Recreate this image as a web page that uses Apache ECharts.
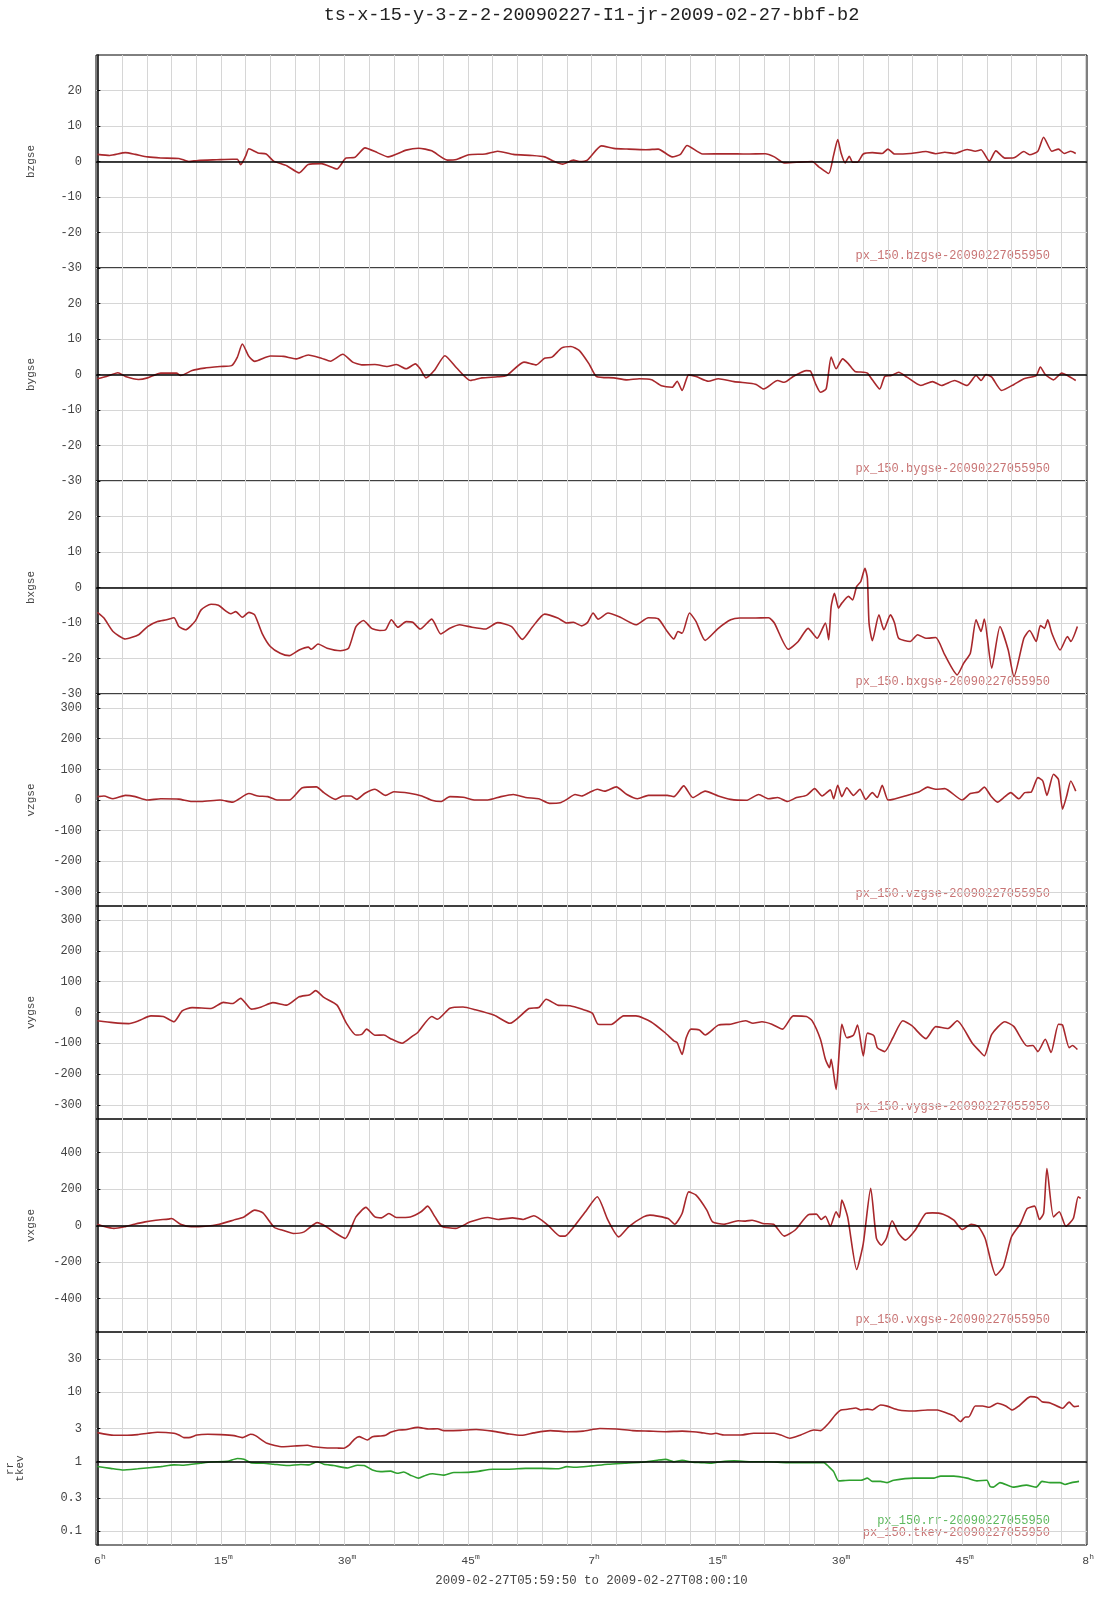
<!DOCTYPE html>
<html><head><meta charset="utf-8">
<script src="https://cdn.jsdelivr.net/npm/echarts@6/dist/echarts.min.js"></script>
<style>html,body{margin:0;padding:0;background:#fff}#c{width:1107px;height:1600px}</style>
</head><body><div id="c"></div>
<script>
// ---- text / ticks ----
const chartTitle = 'ts-x-15-y-3-z-2-20090227-I1-jr-2009-02-27-bbf-b2';
const xRangeLabel = '2009-02-27T05:59:50 to 2009-02-27T08:00:10';
const xMin = -10 / 60, xMax = 120 + 10 / 60;           // minutes after 06:00
const xGridTicks = [0,3,6,9,12,15,18,21,24,27,30,33,36,39,42,45,48,51,54,57,60,63,66,69,72,75,78,81,84,87,90,93,96,99,102,105,108,111,114,117,120];
const xLabelTicks = [0,15,30,45,60,75,90,105,120];
const xLabelNums  = ['6','15','30','45','7','15','30','45','8'];
const xLabelUnits = ['h','m','m','m','h','m','m','m','h'];
const bTicks  = [-30,-20,-10,0,10,20];
const vzTicks = [-300,-200,-100,0,100,200,300];
const vxTicks = [-400,-200,0,200,400];
const logTicks = [0.1,0.3,1,3,10,30];
const logTickLabels = ['0.1','0.3','1','3','10','30'];

// ---- data: [minutes after 06:00, value] ----
const bzgse = [[0,2.0],[1.5,1.7],[3.4,2.5],[4.6,2.0],[6.1,1.3],[7.7,1.0],[9.9,0.85],[11.1,0],[12.2,0.3],[14.5,0.5],[16.4,0.65],[17.0,0.65],[17.4,-0.9],[18.0,1.5],[18.4,3.6],[19.5,2.4],[20.5,2.1],[21.4,0.1],[23.0,-1.2],[24.5,-3.2],[25.6,-0.85],[27.2,-0.6],[29.1,-2.1],[30.2,1.0],[31.2,1.1],[32.5,3.85],[34.0,2.5],[35.3,1.3],[37.5,3.2],[39.0,3.75],[40.6,3.0],[42.5,0.4],[43.6,0.55],[45.1,1.9],[47.1,2.1],[48.6,2.9],[50.5,2.0],[52.8,1.7],[54.3,1.3],[55.5,0],[56.5,-0.75],[57.8,0.4],[58.5,0],[59.5,0.4],[61.2,4.4],[62.7,3.7],[64.3,3.5],[66.6,3.3],[68.1,3.5],[69.8,1.3],[70.8,2.0],[71.6,4.5],[73.5,2.1],[76.5,2.2],[78.8,2.1],[81.1,2.2],[82.2,1.3],[83.4,-0.4],[84.9,-0.2],[86.8,0],[87.6,-1.5],[88.8,-3.4],[89.4,1.8],[89.9,6.2],[90.3,2.4],[90.8,-0.4],[91.3,1.5],[91.7,-0.2],[92.3,-0.2],[93.0,2.1],[94.1,2.5],[95.3,2.25],[96.0,3.5],[96.8,2.1],[98.7,2.25],[100.6,2.8],[101.8,2.2],[102.9,2.6],[104.1,2.25],[105.6,3.4],[106.6,2.9],[107.3,3.3],[108.3,0.1],[109.1,3.0],[110.2,0.95],[111.3,1.05],[112.5,2.8],[113.2,1.9],[114.2,2.9],[114.9,6.85],[115.9,2.9],[116.7,3.5],[117.4,2.25],[118.2,2.9],[118.8,2.25]];
const bygse = [[0,-1.2],[1.1,-0.55],[2.5,0.5],[3.4,-0.55],[5.0,-1.4],[6.1,-0.95],[7.7,0.4],[9.6,0.4],[10.1,-0.3],[11.5,1.1],[13.0,1.8],[14.9,2.25],[16.3,2.5],[17.0,4.9],[17.6,8.6],[18.4,5.1],[19.1,3.7],[21.0,5.2],[22.6,5.1],[24.1,4.4],[25.6,5.5],[27.2,4.6],[28.3,3.75],[29.8,5.7],[31.0,3.5],[32.1,2.7],[33.7,2.8],[35.2,2.25],[36.3,2.8],[37.5,1.6],[38.6,3.0],[39.2,1.6],[39.9,-0.95],[40.9,1.1],[42.2,5.3],[43.6,1.9],[45.3,-1.7],[46.7,-0.95],[48.6,-0.65],[49.7,-0.3],[51.8,3.5],[53.3,2.7],[54.3,4.6],[55.2,4.9],[56.4,7.5],[57.5,7.9],[58.5,6.8],[59.7,3.0],[60.6,-0.55],[62.7,-0.95],[64.3,-1.5],[65.8,-1.2],[67.3,-1.5],[68.5,-3.2],[69.8,-3.6],[70.4,-1.9],[71.0,-4.5],[71.8,-0.1],[72.7,-0.55],[74.2,-1.9],[75.4,-1.2],[77.3,-2.0],[79.2,-2.45],[80.0,-2.8],[80.9,-4.1],[82.6,-1.7],[83.4,-2.2],[84.5,-0.55],[86.1,1.1],[86.6,0.95],[87.2,-2.6],[87.8,-5.0],[88.5,-4.0],[89.1,4.9],[89.7,1.6],[90.5,4.4],[91.2,3.0],[92.0,0.85],[93.0,0.65],[93.5,0.4],[94.1,-1.5],[95.0,-4.1],[95.6,-0.55],[96.4,-0.3],[97.3,0.65],[98.3,-0.75],[100.0,-3.1],[101.4,-2.0],[102.5,-3.1],[104.1,-1.7],[105.6,-3.1],[106.7,-0.3],[107.3,-1.7],[107.9,0],[108.6,-0.75],[109.8,-4.5],[111.3,-2.8],[112.5,-1.2],[114.0,-0.3],[114.5,2.1],[115.1,0],[116.1,-1.5],[117.1,0.4],[117.8,-0.3],[118.8,-1.7]];
const bxgse = [[0,-7.0],[0.8,-8.6],[1.9,-12.4],[3.4,-14.5],[5.0,-13.3],[6.1,-11.0],[7.3,-9.6],[8.4,-9.1],[9.3,-8.5],[9.9,-11.0],[10.7,-11.9],[11.9,-9.4],[12.6,-6.3],[13.8,-4.7],[14.7,-5.0],[15.7,-6.8],[16.2,-7.4],[16.8,-6.8],[17.6,-8.4],[18.4,-7.0],[19.1,-7.7],[20.0,-12.9],[21.0,-16.6],[22.2,-18.5],[23.3,-19.2],[24.5,-17.6],[25.6,-16.8],[26.0,-17.4],[26.8,-15.9],[27.9,-17.1],[29.5,-17.8],[30.5,-17.1],[31.4,-11.0],[32.3,-9.3],[33.3,-11.5],[34.3,-12.1],[35.0,-11.9],[35.7,-9.1],[36.5,-11.2],[37.5,-9.6],[38.3,-9.8],[39.2,-11.7],[40.6,-8.9],[41.7,-13.1],[42.8,-11.5],[44.0,-10.5],[45.5,-11.2],[47.1,-11.7],[48.6,-9.9],[50.3,-11.0],[51.6,-14.6],[52.8,-11.2],[54.3,-7.5],[55.9,-8.6],[57.0,-10.0],[57.8,-9.8],[58.8,-10.8],[59.5,-9.9],[60.2,-7.2],[60.8,-8.9],[62.0,-7.2],[63.5,-8.4],[65.4,-10.5],[66.9,-8.5],[68.1,-8.8],[69.2,-12.4],[70.0,-14.5],[70.5,-12.4],[71.0,-12.9],[71.9,-7.2],[72.7,-9.6],[73.8,-14.9],[75.4,-11.5],[76.9,-9.1],[78.0,-8.6],[79.6,-8.6],[81.5,-8.5],[82.2,-10.0],[83.9,-17.4],[85.1,-15.2],[86.3,-11.5],[87.4,-14.3],[88.4,-10.0],[88.8,-14.7],[89.1,-5.4],[89.5,-1.6],[90.0,-5.8],[90.4,-4.4],[91.2,-2.5],[91.7,-3.5],[92.2,0.3],[92.7,1.7],[93.2,5.4],[93.5,2.6],[93.7,-10.0],[94.1,-15.0],[94.9,-7.7],[95.5,-11.9],[96.3,-7.7],[96.8,-10.0],[97.3,-14.3],[98.7,-15.2],[99.6,-13.3],[100.6,-14.3],[101.8,-14.1],[102.9,-19.0],[104.4,-24.6],[105.2,-21.3],[106.0,-18.5],[106.7,-9.1],[107.3,-12.4],[107.7,-8.9],[108.6,-22.7],[109.6,-11.0],[110.6,-17.6],[111.3,-25.1],[112.5,-14.3],[113.2,-12.1],[114.0,-15.2],[114.5,-10.7],[115.0,-11.5],[115.4,-9.1],[115.9,-12.9],[116.9,-17.6],[117.8,-13.8],[118.2,-15.2],[119.0,-11.0]];
const vzgse = [[0,11],[0.8,13],[1.9,4],[3.4,15],[4.6,11],[6.1,0],[7.7,4],[9.9,3],[11.5,-5],[12.6,-5],[14.9,0],[16.4,-7],[18.4,21],[19.5,13],[20.7,11],[21.8,0],[23.3,0],[24.9,40],[26.6,43],[27.5,24],[28.9,2],[29.8,13],[30.8,13],[31.5,2],[32.5,22],[33.7,35],[35.0,15],[36.0,27],[37.9,22],[39.4,13],[40.6,-1],[41.7,-5],[42.8,11],[44.4,9],[45.9,0],[47.4,0],[49.0,11],[50.5,18],[52.0,8],[53.6,4],[54.9,-11],[56.2,-9],[57.0,2],[58.0,18],[58.8,13],[59.7,24],[60.7,35],[61.6,29],[63.0,43],[64.3,18],[65.6,4],[66.9,15],[69.2,15],[70.0,11],[71.2,46],[72.3,8],[73.8,29],[75.4,13],[76.9,2],[78.8,-1],[80.3,18],[81.5,4],[82.6,8],[83.8,-5],[84.9,8],[86.1,15],[87.1,37],[88.0,13],[89.0,33],[89.4,4],[89.9,48],[90.4,11],[91.0,40],[91.8,15],[92.6,35],[93.3,2],[94.1,24],[94.7,8],[95.3,48],[96.0,0],[96.6,2],[98.3,15],[99.8,27],[100.8,42],[101.8,35],[102.9,37],[105.0,0],[106.0,21],[107.0,26],[107.7,42],[108.5,13],[109.3,-7],[110.2,11],[110.9,24],[111.9,4],[112.6,24],[113.4,26],[114.2,73],[114.8,62],[115.3,15],[116.1,84],[116.7,67],[117.2,-30],[117.7,13],[118.2,62],[118.8,29]];
const vygse = [[0,-27],[1.9,-33],[3.8,-36],[5.0,-27],[6.5,-11],[8.0,-13],[9.3,-30],[10.3,5],[11.5,16],[13.8,13],[15.3,33],[16.4,29],[17.4,46],[18.7,11],[19.9,18],[21.3,32],[23.0,24],[24.5,51],[25.8,58],[26.5,71],[27.5,49],[29.1,24],[30.2,-33],[31.4,-73],[32.1,-71],[32.7,-54],[33.7,-74],[34.8,-73],[35.6,-85],[37.0,-100],[38.3,-76],[38.9,-65],[40.6,-13],[41.3,-22],[42.8,14],[44.4,18],[45.9,9],[48.2,-9],[50.1,-35],[52.4,13],[53.6,16],[54.5,43],[55.9,24],[57.4,22],[58.8,11],[60.1,-2],[60.8,-38],[62.4,-39],[63.9,-11],[65.4,-11],[67.2,-30],[68.9,-65],[70.0,-92],[70.4,-98],[71.0,-136],[71.5,-82],[72.1,-54],[73.1,-57],[73.8,-73],[75.4,-41],[76.9,-38],[78.7,-27],[79.6,-35],[80.7,-30],[81.9,-38],[83.2,-54],[84.5,-11],[86.1,-13],[86.8,-27],[87.8,-87],[88.4,-152],[88.9,-179],[89.1,-152],[89.7,-250],[90.1,-120],[90.4,-38],[91.0,-82],[91.8,-74],[92.3,-41],[93.0,-141],[93.5,-67],[94.3,-76],[94.7,-114],[95.6,-127],[96.6,-82],[97.8,-27],[98.9,-43],[100.6,-85],[101.8,-46],[103.3,-52],[104.4,-27],[106.2,-98],[107.1,-125],[107.7,-141],[108.6,-71],[110.2,-30],[111.3,-46],[112.9,-109],[113.6,-107],[114.2,-127],[115.1,-87],[115.8,-130],[116.7,-38],[117.2,-41],[118.0,-114],[118.4,-107],[119.0,-120]];
const vxgse = [[0,7],[0.7,-4],[2.0,-16],[3.3,-7],[4.5,7],[5.8,20],[7.1,29],[8.6,35],[9.0,38],[10.1,7],[11.4,-7],[13.1,-4],[14.8,7],[16.5,29],[17.8,47],[19.1,84],[20.1,69],[21.5,-11],[22.5,-26],[23.8,-44],[25.1,-35],[26.7,16],[27.7,-4],[29.0,-44],[30.1,-71],[31.4,47],[32.6,99],[33.7,47],[34.5,42],[35.4,66],[36.3,44],[38.0,47],[39.3,75],[40.1,106],[41.0,47],[41.8,-4],[43.5,-16],[45.3,20],[47.4,44],[48.7,33],[50.4,42],[51.7,33],[53.0,53],[54.7,2],[56.2,-58],[56.8,-58],[57.7,-16],[59.4,84],[60.7,157],[62.0,29],[63.3,-62],[64.5,-7],[66.3,47],[67.1,57],[69.3,38],[70.1,7],[71.0,66],[71.8,184],[72.7,166],[74.0,84],[74.7,20],[76.1,7],[77.8,26],[78.7,24],[79.5,29],[80.8,11],[82.1,7],[83.4,-58],[84.7,-26],[86.4,60],[87.3,62],[87.9,33],[88.4,51],[89.0,-4],[89.7,75],[90.1,44],[90.4,139],[91.1,47],[92.2,-241],[93.0,-99],[93.9,203],[94.6,-71],[95.2,-108],[95.8,-71],[96.5,26],[97.3,-44],[98.1,-80],[99.3,-26],[100.6,66],[101.4,69],[102.7,62],[104.0,29],[105.0,-22],[106.1,7],[107.0,-7],[107.8,-71],[109.1,-272],[110.0,-226],[111.0,-62],[112.1,11],[112.9,93],[113.8,106],[114.4,33],[114.9,66],[115.3,312],[116.1,47],[116.8,75],[117.6,-4],[118.5,38],[119.1,157],[119.4,148]];
const tkev = [[0,2.62],[2.0,2.40],[3.6,2.40],[4.9,2.45],[6.1,2.56],[7.3,2.65],[9.3,2.56],[9.9,2.42],[10.5,2.22],[11.1,2.22],[12.1,2.42],[13.4,2.48],[15.0,2.45],[16.6,2.37],[17.6,2.22],[18.6,2.48],[19.2,2.37],[20.6,1.84],[22.5,1.64],[23.9,1.68],[25.5,1.72],[26.3,1.64],[27.5,1.59],[29.1,1.57],[29.9,1.56],[30.6,1.74],[31.2,2.10],[31.8,2.29],[32.8,2.05],[33.4,2.29],[34.4,2.34],[35.0,2.40],[35.6,2.65],[36.6,2.86],[37.4,2.88],[38.9,3.12],[40.3,2.95],[41.3,2.98],[42.1,2.80],[44.1,2.82],[46,2.9],[48,2.75],[50,2.5],[51.5,2.4],[53,2.6],[55,2.8],[57,2.7],[59,2.75],[61,3.0],[63,2.95],[65,2.8],[67,2.75],[69,2.7],[71,2.75],[72.3,2.7],[73.3,2.62],[74.5,2.50],[75.1,2.56],[76.1,2.42],[78.1,2.42],[79.7,2.56],[81.4,2.56],[82.2,2.56],[83.0,2.42],[84.1,2.17],[85.4,2.42],[87.0,2.86],[87.8,2.80],[88.8,3.57],[89.6,4.70],[90.3,5.55],[91.1,5.67],[92.1,5.93],[92.7,5.55],[93.5,5.7],[94.1,5.55],[95.1,6.55],[95.9,6.3],[97.3,5.55],[99.1,5.37],[100.8,5.55],[102.0,5.55],[103.2,4.97],[104.0,4.55],[104.8,3.77],[105.4,4.4],[105.8,4.4],[106.6,6.33],[107.5,6.33],[108.3,6.06],[109.3,6.92],[110.3,6.33],[111.1,5.55],[111.9,6.33],[113.3,8.62],[114.1,8.4],[114.7,7.30],[115.7,7.0],[117.2,5.87],[118.0,7.2],[118.6,6.2],[119.2,6.33]];
const rr = [[0,0.85],[1.6,0.80],[3.0,0.76],[4.9,0.79],[7.7,0.85],[9.3,0.90],[10.5,0.89],[12.5,0.95],[13.8,0.99],[15.8,1.01],[17.0,1.11],[17.8,1.08],[18.6,0.97],[20.2,0.95],[21.4,0.92],[23.1,0.88],[24.7,0.91],[25.7,0.90],[26.7,1.0],[27.5,0.92],[28.7,0.88],[30.4,0.81],[31.6,0.89],[32.4,0.88],[33.4,0.76],[34.4,0.72],[35.6,0.73],[36.4,0.68],[37.2,0.71],[38.0,0.64],[39.0,0.58],[39.9,0.64],[40.7,0.67],[42.1,0.64],[43.3,0.70],[44.1,0.70],[46,0.72],[48,0.78],[50,0.78],[52,0.80],[54,0.80],[56,0.79],[57,0.85],[58,0.83],[60,0.87],[62,0.92],[64,0.95],[66,0.98],[68,1.05],[69,1.08],[70,1.0],[71,1.05],[72.3,0.98],[73.3,0.97],[74.5,0.95],[75.7,1.0],[77.3,1.03],[79.3,1.0],[81.4,1.0],[83.8,0.97],[85.4,0.97],[88.2,0.97],[88.8,0.85],[89.4,0.72],[90.0,0.53],[91.3,0.54],[92.7,0.54],[93.5,0.58],[94.1,0.52],[95.1,0.52],[95.9,0.50],[96.7,0.54],[99.1,0.58],[101.6,0.58],[102.4,0.62],[104.0,0.62],[105.6,0.58],[106.8,0.53],[108.0,0.54],[108.4,0.44],[108.8,0.43],[109.6,0.50],[111.2,0.43],[112.8,0.46],[114.0,0.43],[114.7,0.52],[115.7,0.50],[116.9,0.50],[117.5,0.47],[118.3,0.50],[119.2,0.52]];

// ---- styling / layout ----
const MONO = '"Liberation Mono","DejaVu Sans Mono",monospace';
const RED = '#a8282c', GREEN = '#2ea02e';
const LBL_RED = '#c87474', LBL_GREEN = '#5cb85c';
const panelTops = [55, 268, 481, 694, 906, 1119, 1332, 1545];
const stamp = '-20090227055950';

const panels = [
  {name: 'bzgse', min: -30, max: 30, ticks: bTicks, zero: 0, series: [{data: bzgse, color: RED, label: 'px_150.bzgse' + stamp, lc: LBL_RED}]},
  {name: 'bygse', min: -30, max: 30, ticks: bTicks, zero: 0, series: [{data: bygse, color: RED, label: 'px_150.bygse' + stamp, lc: LBL_RED}]},
  {name: 'bxgse', min: -30, max: 30, ticks: bTicks, zero: 0, series: [{data: bxgse, color: RED, label: 'px_150.bxgse' + stamp, lc: LBL_RED}]},
  {name: 'vzgse', min: -346, max: 346, ticks: vzTicks, zero: null, series: [{data: vzgse, color: RED, label: 'px_150.vzgse' + stamp, lc: LBL_RED}]},
  {name: 'vygse', min: -346, max: 346, ticks: vzTicks, zero: null, series: [{data: vygse, color: RED, label: 'px_150.vygse' + stamp, lc: LBL_RED}]},
  {name: 'vxgse', min: -583, max: 583, ticks: vxTicks, zero: 0, series: [{data: vxgse, color: RED, label: 'px_150.vxgse' + stamp, lc: LBL_RED}]},
  {name: 'rr\ntkev', log: true, min: -1.199, max: 1.866, ticks: logTicks.map(Math.log10), zero: 0,
   series: [{data: rr, color: GREEN, label: 'px_150.rr' + stamp, lc: LBL_GREEN},
            {data: tkev, color: RED, label: 'px_150.tkev' + stamp, lc: LBL_RED}]}
];

const grid = [], xAxis = [], yAxis = [], series = [], graphic = [];
graphic.push({type: 'text', x: 591.5, y: 15, style: {text: chartTitle, font: '18.6px ' + MONO, fill: '#222', textAlign: 'center', textVerticalAlign: 'middle'}});

panels.forEach((p, i) => {
  const top = panelTops[i], height = panelTops[i + 1] - top;
  const last = i === panels.length - 1;
  grid.push({left: 96, right: 20, top: top, height: height, show: true, borderColor: '#000', borderWidth: 1,
             backgroundColor: 'transparent', containLabel: false, outerBoundsMode: 'none'});
  xAxis.push({
    gridIndex: i, type: 'value', min: xMin, max: xMax,
    axisLine: {show: false},
    axisTick: {show: false, customValues: xGridTicks},
    splitLine: {show: true, lineStyle: {color: '#d6d6d6', width: 1}},
    axisLabel: last ? {
      show: true, customValues: xLabelTicks, margin: 8,
      formatter: v => { const k = xLabelTicks.findIndex(t => Math.abs(t - v) < 1e-6); return k < 0 ? '' : '{n|' + xLabelNums[k] + '}{s|' + xLabelUnits[k] + '}'; },
      rich: {n: {fontFamily: MONO, fontSize: 11.5, color: '#444', padding: [0, 0, 0, 5]},
             s: {fontFamily: MONO, fontSize: 8, color: '#444', padding: [0, 0, 8, 0]}}
    } : {show: false},
    name: last ? xRangeLabel : '', nameLocation: 'middle', nameGap: 30,
    nameTextStyle: {fontFamily: MONO, fontSize: 12.4, color: '#444'}
  });
  const labels = p.log ? logTickLabels : null;
  yAxis.push({
    gridIndex: i, type: 'value', min: p.min, max: p.max,
    axisLine: {show: true, lineStyle: {color: '#000', width: 1.5}},
    axisTick: {show: true, inside: true, length: 3, customValues: p.ticks, lineStyle: {color: '#000'}},
    axisLabel: {customValues: p.ticks, margin: 14, fontFamily: MONO, fontSize: 12, color: '#444',
      formatter: v => { if (labels) { const k = p.ticks.findIndex(t => Math.abs(t - v) < 1e-6); return k < 0 ? '' : labels[k]; } return String(Math.round(v)); }},
    splitLine: {show: true, lineStyle: {color: '#d6d6d6', width: 1}},
    name: p.name, nameLocation: 'middle', nameRotate: 90, nameGap: p.log ? 71 : 59,
    nameTextStyle: p.log
      ? {fontFamily: MONO, fontSize: 11, color: '#444', lineHeight: 10, padding: [0, 60, 0, 0]}
      : {fontFamily: MONO, fontSize: 11, color: '#444'}
  });
  p.series.forEach((s, j) => {
    const ser = {
      type: 'line', xAxisIndex: i, yAxisIndex: i, showSymbol: false, symbol: 'none',
      smooth: 0.2,
      data: p.log ? s.data.map(d => [d[0], Math.log10(d[1])]) : s.data,
      lineStyle: {color: s.color, width: 1.6}, itemStyle: {color: s.color},
      animation: false, silent: true, z: 3
    };
    if (j === 0 && p.zero !== null) {
      ser.markLine = {silent: true, symbol: ['none', 'none'], label: {show: false}, animation: false,
        lineStyle: {color: '#000', width: 1.5, type: 'solid'}, emphasis: {disabled: true}, data: [{yAxis: p.zero}]};
    }
    series.push(ser);
    const n = p.series.length;
    graphic.push({type: 'text', x: 1050, y: panelTops[i + 1] - 12 - (n - 1 - j) * 12,
      style: {text: s.label, font: '12px ' + MONO, fill: s.lc, textAlign: 'right', textVerticalAlign: 'middle'}});
  });
});

const chart = echarts.init(document.getElementById('c'), null, {renderer: 'canvas'});
chart.setOption({animation: false, backgroundColor: '#fff', grid, xAxis, yAxis, series, graphic});
</script></body></html>
